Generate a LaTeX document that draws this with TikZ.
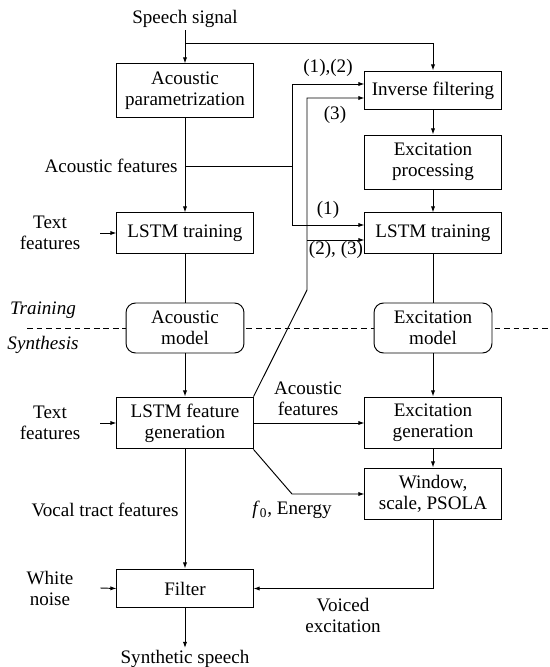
\documentclass[tikz,border=0pt]{standalone}
\usepackage{fontspec}
\setmainfont{Liberation Serif}
\usetikzlibrary{arrows.meta,calc}
\begin{document}
\begin{tikzpicture}[x=0.524pt,y=-0.524pt,
  font=\fontsize{10}{11}\selectfont,
  line width=0.5pt,
  arr/.style={-{Latex[length=3.2pt,width=2.2pt]}},
  box/.style={draw,fill=white,minimum width=71.3pt,align=center,inner sep=2pt},
  rbox/.style={draw,fill=white,rounded corners=5pt,minimum width=61.8pt,minimum height=26.2pt,align=center,inner sep=2pt},
  lbl/.style={align=center,inner sep=1pt},
  side/.style={align=center,inner sep=0pt,minimum width=52.4pt}]
\useasboundingbox (0,0) rectangle (550,667);
% dashed separator
\coordinate (dl) at (27,328);
\coordinate (dr) at (550,328);
\draw[dashed,dash pattern=on 3pt off 2pt] (dl) -- (dr);
\node[lbl,font=\fontsize{10}{11}\selectfont\itshape] (train) at (43,310) {Training};
\node[lbl,font=\fontsize{10}{11}\selectfont\itshape] (synth) at (43,345) {Synthesis};

% boxes
\node[box,minimum height=27.8pt] (ap) at (185,90.5) {Acoustic\\parametrization};
\node[box,minimum height=20.4pt] (inv) at (433,90.5) {Inverse filtering};
\node[box,minimum height=28.3pt] (exp) at (433,162) {Excitation\\processing};
\node[box,minimum height=21pt] (ltl) at (185,233) {LSTM training};
\node[box,minimum height=21pt] (ltr) at (433,233) {LSTM training};
\node[rbox] (am) at (185,328) {Acoustic\\model};
\node[rbox] (em) at (433,328) {Excitation\\model};
\node[box,minimum height=27.2pt] (lfg) at (185,423) {LSTM feature\\generation};
\node[box,minimum height=27.2pt] (eg) at (433,423) {Excitation\\generation};
\node[box,minimum height=27.2pt] (win) at (433,494) {Window,\\scale, PSOLA};
\node[box,minimum height=20.4pt] (filt) at (185,588.5) {Filter};

% outer labels
\node[lbl] (speech) at (185,19) {Speech signal};
\node[lbl,anchor=north] (synsp) at (185,648) {Synthetic speech};
\node[side] (tf1) at (50,233) {Text\\features};
\node[side] (tf2) at (50,423) {Text\\features};
\node[side] (wn) at (50,588) {White\\noise};
\node[lbl,anchor=east] (aflbl) at (180,166) {Acoustic features};
\node[lbl] (af2) at (308,399) {Acoustic\\features};
\node[lbl] (vtf) at (105,510) {Vocal tract features};
\node[lbl] (f0e) at (292,510) {\textit{f}\textsubscript{0}, Energy};
\node[lbl] (vex) at (343,615) {Voiced\\excitation};
\node[lbl] (l12) at (328,68) {(1),(2)};
\node[lbl] (l3) at (335,115) {(3)};
\node[lbl] (l1) at (328,210) {(1)};
\node[lbl] (l23) at (336,250) {(2), (3)};

% junction coordinates
\coordinate (b1) at (185,43);
\coordinate (j1) at (185,166);
\coordinate (j2) at (292,166);
\coordinate (k1) at (307,290);
\coordinate (k2) at (307,240);
\coordinate (e1) at (292,494);

% connectors
\draw[arr] (speech.south) -- (ap.north);
\draw[arr] (b1) -| (inv.north);
\draw[arr] (ap.south) -- (ltl.north);
\draw (j1) -- (j2);
\draw[arr] (j2) |- ($(inv.west)+(0,-6.5)$);
\draw[arr] (j2) |- ($(ltr.west)+(0,-8)$);
\draw[arr] (lfg.north east) -- (k1) |- ($(inv.west)+(0,7.5)$);
\draw[arr] (k2) -- ($(ltr.west)+(0,7)$);
\draw[arr] (exp.south) -- (ltr.north);
\draw[arr] (inv.south) -- (exp.north);
\draw (ltl.south) -- (am.north);
\draw (ltr.south) -- (em.north);
\draw[arr] (am.south) -- (lfg.north);
\draw[arr] (em.south) -- (eg.north);
\draw[arr] (tf1.east) -- (ltl.west);
\draw[arr] (tf2.east) -- (lfg.west);
\draw[arr] (wn.east) -- (filt.west);
\draw[arr] (lfg.east) -- (eg.west);
\draw[arr] (lfg.south east) -- (e1) -- (win.west);
\draw[arr] (eg.south) -- (win.north);
\draw[arr] (lfg.south) -- (filt.north);
\draw[arr] (win.south) |- (filt.east);
\draw[arr] (filt.south) -- (synsp.north);
\end{tikzpicture}
\end{document}
